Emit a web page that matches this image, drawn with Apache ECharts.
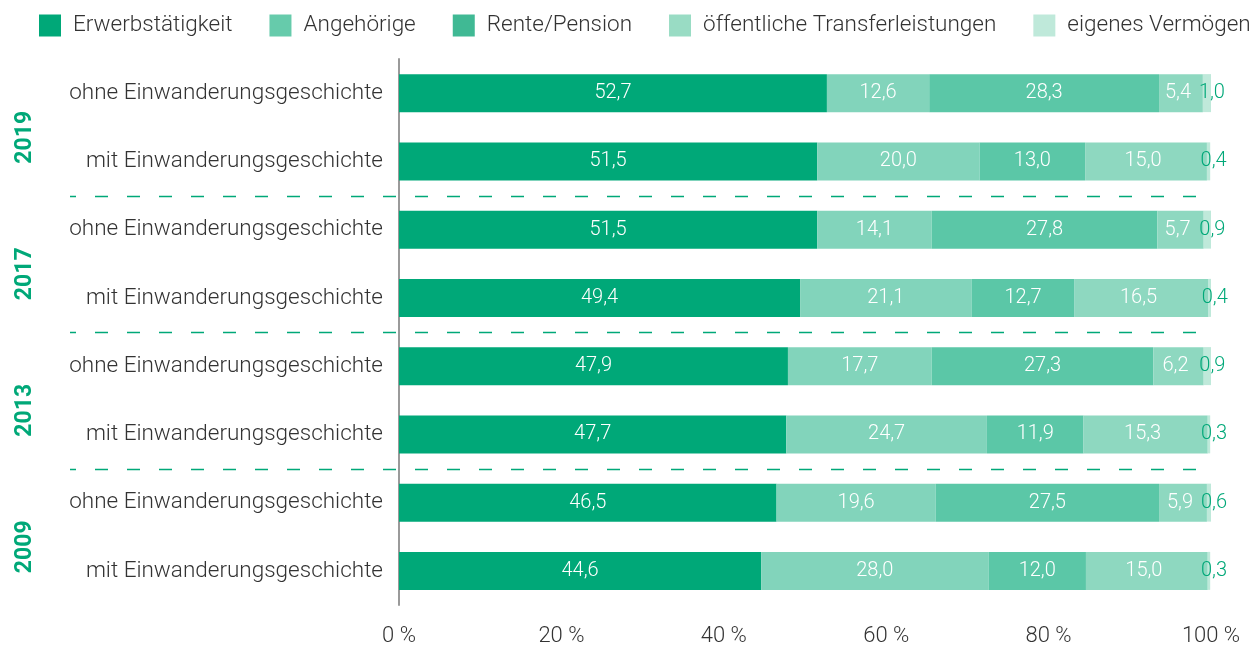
<!DOCTYPE html>
<html>
<head>
<meta charset="utf-8">
<script src="https://cdn.jsdelivr.net/npm/echarts@6/dist/echarts.min.js"></script>
<style>
  html, body { margin: 0; padding: 0; background: #ffffff; }
  #chart { width: 1255px; height: 647px; }
</style>
</head>
<body>
<div id="chart"></div>
<script>
// Rows from top to bottom: survey year and group
const categories = [
  'ohne Einwanderungsgeschichte', 'mit Einwanderungsgeschichte',
  'ohne Einwanderungsgeschichte', 'mit Einwanderungsgeschichte',
  'ohne Einwanderungsgeschichte', 'mit Einwanderungsgeschichte',
  'ohne Einwanderungsgeschichte', 'mit Einwanderungsgeschichte'
];
const years = ['2019', '2017', '2013', '2009'];

// Share of main source of livelihood, in percent
const erwerbstaetigkeit = [52.7, 51.5, 51.5, 49.4, 47.9, 47.7, 46.5, 44.6];
const angehoerige       = [12.6, 20.0, 14.1, 21.1, 17.7, 24.7, 19.6, 28.0];
const rente             = [28.3, 13.0, 27.8, 12.7, 27.3, 11.9, 27.5, 12.0];
const transfer          = [5.4, 15.0, 5.7, 16.5, 6.2, 15.3, 5.9, 15.0];
const vermoegen         = [1.0, 0.4, 0.9, 0.4, 0.9, 0.3, 0.6, 0.3];

const xTicks = [0, 20, 40, 60, 80, 100];

const GREEN = '#00a878';
const fmt = v => v.toFixed(1).replace('.', ',');

const seriesDefs = [
  { name: 'Erwerbstätigkeit', data: erwerbstaetigkeit, color: '#00a878', legend: '#00a878', label: '#ffffff', offset: [0, 0] },
  { name: 'Angehörige', data: angehoerige, color: '#82d4bb', legend: '#66cbab', label: '#ffffff', offset: [0, 0] },
  { name: 'Rente/Pension', data: rente, color: '#5bc7a7', legend: '#40b994', label: '#ffffff', offset: [0, 0] },
  { name: 'öffentliche Transferleistungen', data: transfer, color: '#8ed8c0', legend: '#99dcc4', label: '#ffffff', offset: [-3, 0] },
  { name: 'eigenes Vermögen', data: vermoegen, color: '#bfe9da', legend: '#bfe9da', label: GREEN, offset: [5, 0] }
];

const chart = echarts.init(document.getElementById('chart'), null, { renderer: 'canvas' });

const option = {
  animation: false,
  textStyle: { fontFamily: 'Roboto' },
  legend: {
    left: 39,
    right: 0,
    top: 14,
    padding: 0,
    itemWidth: 22,
    itemHeight: 22,
    itemGap: 37,
    icon: 'rect',
    textStyle: { fontSize: 22.5, color: '#333333', fontFamily: 'Roboto', fontWeight: 300, padding: [0, 0, 0, 7] },
    data: seriesDefs.map(s => ({ name: s.name, itemStyle: { color: s.legend } }))
  },
  grid: { left: 399, right: 44, top: 59, bottom: 40 },
  xAxis: {
    type: 'value',
    min: 0,
    max: 100,
    interval: 20,
    axisLine: { show: false },
    axisTick: { show: false },
    splitLine: { show: false },
    axisLabel: {
      margin: 20,
      fontSize: 22,
      color: '#333333',
      fontWeight: 300,
      formatter: v => xTicks.includes(v) ? v + ' %' : ''
    }
  },
  yAxis: [
    {
      type: 'category',
      data: categories,
      inverse: true,
      axisLine: { show: true, lineStyle: { color: '#9a9a9a', width: 2 } },
      axisTick: { show: false },
      axisLabel: { margin: 16, fontSize: 22.5, color: '#333333', fontWeight: 300 }
    },
    {
      type: 'category',
      data: years,
      inverse: true,
      position: 'left',
      offset: 362,
      axisLine: { show: false },
      axisTick: { show: false },
      axisLabel: { rotate: 90, fontSize: 23, fontWeight: 'bold', color: GREEN, margin: 0, padding: [0, 20, 0, 0] }
    }
  ],
  series: seriesDefs.map(s => ({
    name: s.name,
    type: 'bar',
    stack: 'total',
    barWidth: 38,
    data: s.data,
    itemStyle: { color: s.color },
    label: {
      show: true,
      position: 'inside',
      offset: s.offset,
      color: s.label,
      fontSize: 20,
      fontWeight: 300,
      formatter: p => fmt(p.value)
    }
  }))
};

chart.setOption(option);

// Dashed separators between the survey years
const seps = [];
for (let i = 1; i < categories.length - 1; i += 2) {
  const a = chart.convertToPixel({ yAxisIndex: 0 }, i);
  const b = chart.convertToPixel({ yAxisIndex: 0 }, i + 1);
  const y = Math.round((a + b) / 2) + 0.5;
  const xEnd = chart.convertToPixel({ xAxisIndex: 0 }, 100);
  seps.push({
    type: 'line',
    shape: { x1: 70, y1: y, x2: xEnd, y2: y },
    style: { stroke: GREEN, lineWidth: 1.5, lineDash: [13, 19], lineDashOffset: 7 },
    silent: true
  });
}
chart.setOption({ graphic: seps });
</script>
</body>
</html>
